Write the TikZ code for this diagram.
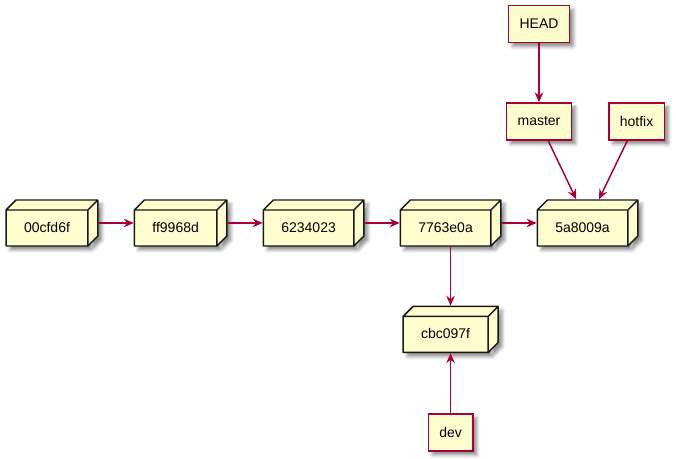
\documentclass[tikz,border=0pt]{standalone}
\usepackage{fontspec}
\setmainfont{Liberation Sans}
\usetikzlibrary{arrows.meta,positioning,shadows.blur}
\definecolor{nodefill}{HTML}{FEFECE}
\definecolor{umlred}{HTML}{A80036}

% box with a top and a right face, the front face in the lower left
\newdimen\bxl \newdimen\bxr \newdimen\byb \newdimen\byt \newdimen\bxd
\pgfdeclareshape{box3d}{
    \inheritsavedanchors[from=rectangle]
    \inheritanchorborder[from=rectangle]
    \inheritanchor[from=rectangle]{center}
    \inheritanchor[from=rectangle]{text}
    \inheritanchor[from=rectangle]{base}
    \inheritanchor[from=rectangle]{mid}
    \inheritanchor[from=rectangle]{north}
    \inheritanchor[from=rectangle]{south}
    \inheritanchor[from=rectangle]{east}
    \inheritanchor[from=rectangle]{west}
    \inheritanchor[from=rectangle]{north east}
    \inheritanchor[from=rectangle]{north west}
    \inheritanchor[from=rectangle]{south east}
    \inheritanchor[from=rectangle]{south west}
    \backgroundpath{
        \pgfextractx{\bxl}{\southwest} \pgfextracty{\byb}{\southwest}
        \pgfextractx{\bxr}{\northeast} \pgfextracty{\byt}{\northeast}
        \pgfmathsetlength\bxd{\pgfkeysvalueof{/pgf/outer xsep}}
        \advance\bxl by\bxd \advance\bxr by-\bxd
        \pgfmathsetlength\bxd{\pgfkeysvalueof{/pgf/outer ysep}}
        \advance\byb by\bxd \advance\byt by-\bxd
        \bxd=7.5pt
        % outline
        \pgfpathmoveto{\pgfqpoint{\bxl}{\byb}}
        \pgfpathlineto{\pgfqpoint{\bxl}{\dimexpr\byt-\bxd\relax}}
        \pgfpathlineto{\pgfqpoint{\dimexpr\bxl+\bxd\relax}{\byt}}
        \pgfpathlineto{\pgfqpoint{\bxr}{\byt}}
        \pgfpathlineto{\pgfqpoint{\bxr}{\dimexpr\byb+\bxd\relax}}
        \pgfpathlineto{\pgfqpoint{\dimexpr\bxr-\bxd\relax}{\byb}}
        \pgfpathclose
        % edges of the front face
        \pgfpathmoveto{\pgfqpoint{\bxl}{\dimexpr\byt-\bxd\relax}}
        \pgfpathlineto{\pgfqpoint{\dimexpr\bxr-\bxd\relax}{\dimexpr\byt-\bxd\relax}}
        \pgfpathlineto{\pgfqpoint{\dimexpr\bxr-\bxd\relax}{\byb}}
        \pgfpathmoveto{\pgfqpoint{\dimexpr\bxr-\bxd\relax}{\dimexpr\byt-\bxd\relax}}
        \pgfpathlineto{\pgfqpoint{\bxr}{\byt}}
    }
}

\begin{document}
\begin{tikzpicture}[
    x=0.75pt, y=-0.75pt,
    font=\fontsize{10.5}{12.6}\selectfont,
    node distance=26.25pt,
    shadowed/.style={blur shadow={shadow xshift=3pt, shadow yshift=-3pt, shadow blur radius=2.5pt, shadow opacity=45}},
    commit/.style={box3d, draw=black!90, line width=1.1pt, fill=nodefill, line join=round, shadowed,
        inner xsep=13.5pt, minimum height=34.5pt, text height=16.25pt, text depth=2pt, execute at end node={\hspace*{7.5pt}}},
    refbox/.style={rectangle, draw=umlred, line width=1.1pt, fill=nodefill, inner xsep=8.25pt, minimum height=27.75pt, shadowed},
    arrow/.style={-{Stealth[length=7.5pt,width=6.5pt,inset=2.5pt]}, draw=umlred, line width=1.1pt},
]
    \useasboundingbox (0,0) rectangle (676,459);

    % Commits
    \node[commit] (c1) at (52,223) {00cfd6f};
    \node[commit, right=of c1] (c2) {ff9968d};
    \node[commit, right=of c2] (c3) {6234023};
    \node[commit, right=of c3] (c4) {7763e0a};
    \node[commit, right=of c4] (c5) {5a8009a};
    \node[commit, below=44.25pt of c4] (c6) {cbc097f};

    % Branches and HEAD
    \node[refbox] (master) at (539,121.5) {master};
    \node[refbox, above=44.25pt of master] (head) {HEAD};
    \node[refbox, right=27pt of master] (hotfix) {hotfix};
    \node[refbox, below=45pt of c6] (dev) {dev};

    % Arrows
    \draw[arrow] (c1) -- (c2);
    \draw[arrow] (c2) -- (c3);
    \draw[arrow] (c3) -- (c4);
    \draw[arrow] (c4) -- (c5);
    \draw[arrow] (c4) -- (c6);
    \draw[arrow] (dev) -- (c6);
    \draw[arrow] (head) -- (master);
    \draw[arrow] (master) -- (c5);
    \draw[arrow] (hotfix) -- (c5);

\end{tikzpicture}
\end{document}
